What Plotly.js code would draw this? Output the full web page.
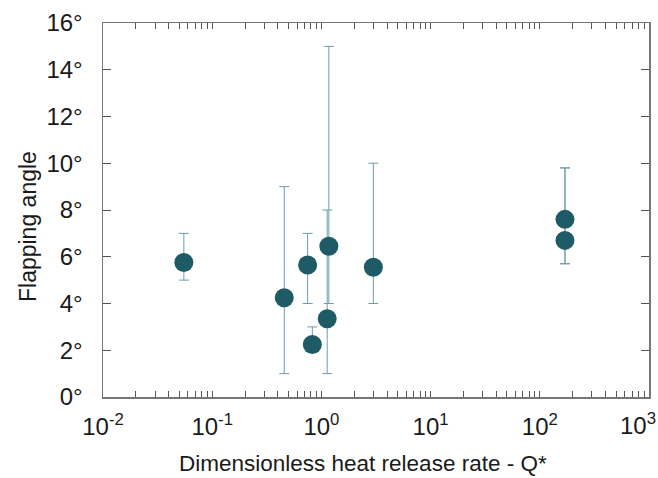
<!DOCTYPE html>
<html>
<head>
<meta charset="utf-8">
<script src="https://cdn.plot.ly/plotly-3.0.1.min.js"></script>
<style>html,body{margin:0;padding:0;background:#fff;}#chart{width:658px;height:478px;}</style>
</head>
<body>
<div id="chart"></div>
<script>
// Data
const qStar      = [0.055, 0.457, 0.748, 0.826, 1.13, 1.17, 2.99, 170, 170];
const angle      = [5.75, 4.25, 5.65, 2.25, 3.35, 6.45, 5.55, 7.6, 6.7];
const errUpper   = [7.0, 9.0, 7.0, 3.0, 8.0, 15.0, 10.0, 9.8, 9.8];
const errLower   = [5.0, 1.0, 4.0, 2.0, 1.0, 4.0, 4.0, 5.7, 5.7];
const xTickVals  = [0.01, 0.1, 1, 10, 100, 1000];
const xTickText  = ['10<sup>-2</sup>', '10<sup>-1</sup>', '10<sup>0</sup>', '10<sup>1</sup>', '10<sup>2</sup>', '10<sup>3</sup>'];
const yTickVals  = [0, 2, 4, 6, 8, 10, 12, 14, 16];
const yTickText  = yTickVals.map(v => v + '°');
const xTitle     = 'Dimensionless heat release rate - Q*';
const yTitle     = 'Flapping angle';

const plus  = angle.map((a, i) => errUpper[i] - a);
const minus = angle.map((a, i) => a - errLower[i]);

const minorVals = [];
for (let e = -2; e < 3; e++) for (let d = 2; d <= 9; d++) minorVals.push(d * Math.pow(10, e));

// last x tick label is drawn as an annotation so it stays inside the page
const lastIdx = xTickVals.length - 1;
const axisText = xTickText.map((t, i) => i === lastIdx ? '' : t);

const trace = {
  x: qStar, y: angle, type: 'scatter', mode: 'markers',
  marker: {size: 19, color: '#1f5a67'},
  error_y: {type: 'data', symmetric: false, array: plus, arrayminus: minus,
            color: '#6f9ca7', thickness: 1, width: 5},
  hoverinfo: 'x+y'
};

const fam = 'Liberation Sans, Arial, sans-serif';
const txt = '#1a1a1a';
const layout = {
  width: 658, height: 478,
  margin: {l: 103, r: 9, t: 23, b: 81},
  paper_bgcolor: '#fff', plot_bgcolor: '#fff',
  showlegend: false,
  font: {family: fam, color: txt},
  xaxis: {
    type: 'log', range: [-2, 3],
    tickmode: 'array', tickvals: xTickVals, ticktext: axisText,
    ticks: 'inside', ticklen: 6, tickcolor: '#555', tickwidth: 1,
    ticklabelstandoff: 8,
    showline: true, linecolor: '#777', linewidth: 1.5, mirror: 'ticks',
    showgrid: false, zeroline: false,
    tickfont: {size: 24, family: fam, color: txt},
    minor: {tickmode: 'array', tickvals: minorVals, ticks: 'inside', ticklen: 6, tickcolor: '#555', showgrid: false}
  },
  yaxis: {
    range: [0, 16],
    tickmode: 'array', tickvals: yTickVals, ticktext: yTickText,
    ticks: 'inside', ticklen: 8, tickcolor: '#555', tickwidth: 1,
    ticklabelstandoff: 14, ticklabeloverflow: 'allow',
    showline: true, linecolor: '#777', linewidth: 1.5, mirror: 'ticks',
    showgrid: false, zeroline: false,
    tickfont: {size: 24, family: fam, color: txt}
  },
  annotations: [
    {text: xTickText[lastIdx], xref: 'x', yref: 'paper', x: Math.log10(xTickVals[lastIdx]), y: -0.073,
     xanchor: 'right', yanchor: 'middle', xshift: 9, showarrow: false,
     font: {size: 24, family: fam, color: txt}},
    {text: xTitle, xref: 'paper', yref: 'paper', x: 0.476, y: -0.177, xanchor: 'center', yanchor: 'middle',
     showarrow: false, font: {size: 22.5, family: fam, color: txt}},
    {text: yTitle, xref: 'paper', yref: 'paper', x: -0.137, y: 0.455, xanchor: 'center', yanchor: 'middle',
     textangle: -90, showarrow: false, font: {size: 23, family: fam, color: txt}}
  ]
};

Plotly.newPlot('chart', [trace], layout, {displayModeBar: false, staticPlot: true});
</script>
</body>
</html>
